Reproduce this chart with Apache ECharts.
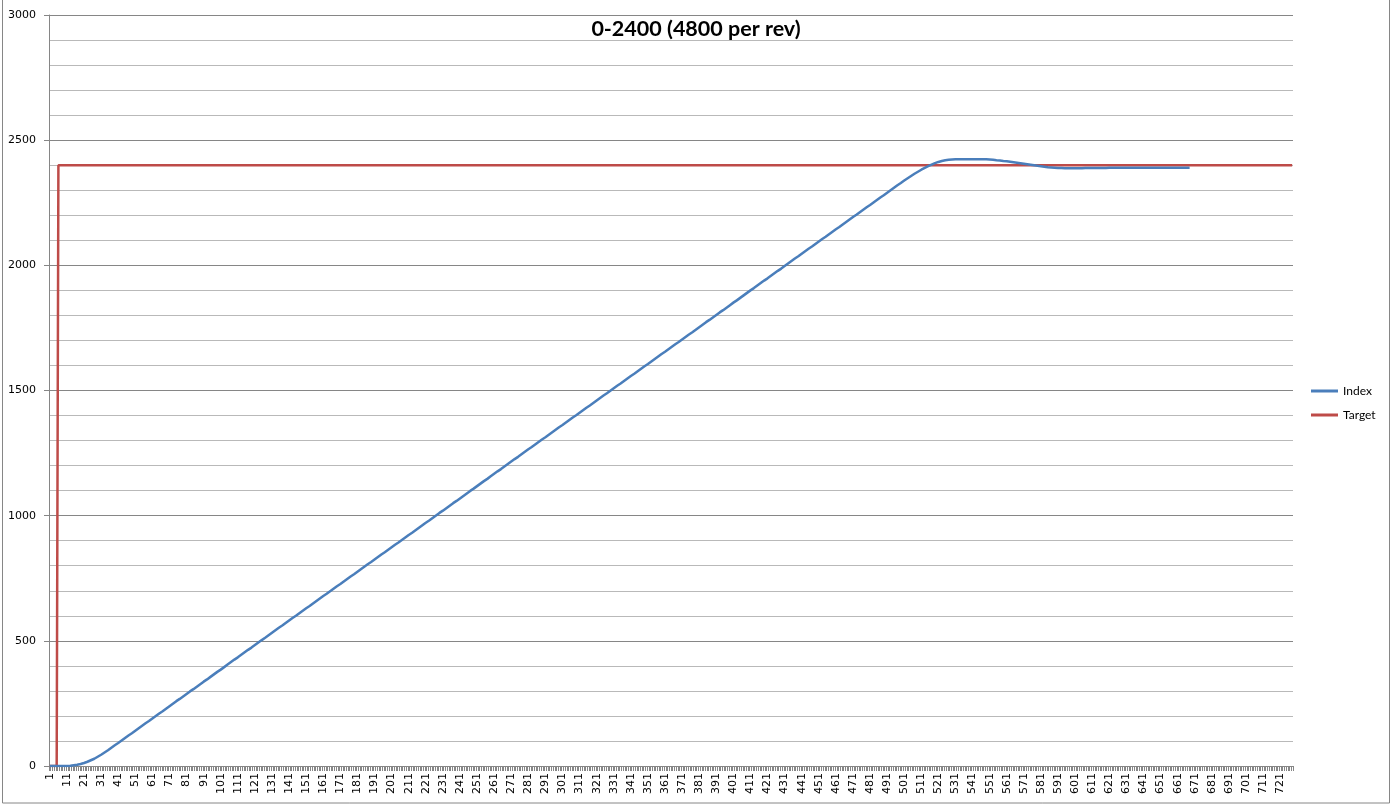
<!DOCTYPE html>
<html>
<head>
<meta charset="utf-8">
<script src="https://cdn.jsdelivr.net/npm/echarts@6/dist/echarts.min.js"></script>
<style>
html,body{margin:0;padding:0;background:#fff;}
#chart{width:1392px;height:806px;}
</style>
</head>
<body>
<div id="chart"></div>
<script>
const titleText = '0-2400 (4800 per rev)';
const seriesNames = ['Index', 'Target'];
const categoryCount = 728;
const categories = Array.from({length: categoryCount}, (_, i) => String(i + 1));
const yTicks = [0, 500, 1000, 1500, 2000, 2500, 3000];

// Index series, category 1 .. 668
const indexValues = [
0,0,0,0,0,0,0,0,0,
0,0,0,1,2,3,4,5,6,8,
10,12,15,17,20,23,26,29,33,37,
40,45,49,54,58,63,68,73,78,83,
88,92,97,102,107,112,117,122,127,131,
136,141,146,151,156,161,166,171,175,180,
185,190,195,200,205,210,215,219,224,229,
234,239,244,249,254,259,263,268,273,278,
283,288,293,298,302,307,312,317,322,327,
332,337,342,346,351,356,361,366,371,376,
381,385,390,395,400,405,410,415,420,425,
429,434,439,444,449,454,459,464,469,473,
478,483,488,493,498,503,508,512,517,522,
527,532,537,542,547,552,556,561,566,571,
576,581,586,591,596,600,605,610,615,620,
625,630,635,639,644,649,654,659,664,669,
674,679,683,688,693,698,703,708,713,718,
722,727,732,737,742,747,752,757,762,766,
771,776,781,786,791,796,801,806,810,815,
820,825,830,835,840,845,849,854,859,864,
869,874,879,884,889,893,898,903,908,913,
918,923,928,932,937,942,947,952,957,962,
967,972,976,981,986,991,996,1001,1006,1011,
1016,1020,1025,1030,1035,1040,1045,1050,1055,1059,
1064,1069,1074,1079,1084,1089,1094,1099,1103,1108,
1113,1118,1123,1128,1133,1138,1143,1147,1152,1157,
1162,1167,1172,1177,1182,1186,1191,1196,1201,1206,
1211,1216,1221,1226,1230,1235,1240,1245,1250,1255,
1260,1265,1269,1274,1279,1284,1289,1294,1299,1304,
1309,1313,1318,1323,1328,1333,1338,1343,1348,1353,
1357,1362,1367,1372,1377,1382,1387,1392,1396,1401,
1406,1411,1416,1421,1426,1431,1436,1440,1445,1450,
1455,1460,1465,1470,1475,1480,1484,1489,1494,1499,
1504,1509,1514,1519,1523,1528,1533,1538,1543,1548,
1553,1558,1563,1567,1572,1577,1582,1587,1592,1597,
1602,1606,1611,1616,1621,1626,1631,1636,1641,1646,
1650,1655,1660,1665,1670,1675,1680,1685,1690,1694,
1699,1704,1709,1714,1719,1724,1729,1733,1738,1743,
1748,1753,1758,1763,1768,1773,1777,1782,1787,1792,
1797,1802,1807,1812,1817,1821,1826,1831,1836,1841,
1846,1851,1856,1860,1865,1870,1875,1880,1885,1890,
1895,1900,1904,1909,1914,1919,1924,1929,1934,1939,
1943,1948,1953,1958,1963,1968,1973,1978,1983,1987,
1992,1997,2002,2007,2012,2017,2022,2027,2031,2036,
2041,2046,2051,2056,2061,2066,2070,2075,2080,2085,
2090,2095,2100,2105,2110,2114,2119,2124,2129,2134,
2139,2144,2149,2153,2158,2163,2168,2173,2178,2183,
2188,2193,2197,2202,2207,2212,2217,2222,2227,2232,
2237,2241,2246,2251,2256,2261,2266,2271,2276,2280,
2285,2290,2295,2300,2305,2310,2315,2320,2324,2329,
2334,2339,2344,2348,2353,2357,2362,2366,2370,2374,
2378,2382,2386,2389,2393,2396,2399,2402,2405,2408,
2411,2413,2415,2417,2419,2420,2421,2422,2423,2423,
2424,2424,2424,2424,2424,2424,2424,2424,2424,2424,
2424,2424,2424,2424,2424,2424,2424,2424,2424,2424,
2423,2423,2422,2422,2421,2420,2420,2419,2418,2417,
2417,2416,2415,2414,2413,2412,2411,2410,2409,2408,
2407,2406,2405,2404,2403,2402,2401,2400,2399,2398,
2397,2396,2395,2394,2393,2392,2392,2391,2390,2390,
2389,2389,2389,2389,2389,2388,2388,2388,2388,2388,
2388,2388,2388,2388,2388,2388,2389,2389,2389,2389,
2389,2389,2389,2389,2389,2389,2389,2389,2389,2389,
2389,2390,2390,2390,2390,2390,2390,2390,2390,2390,
2390,2390,2390,2390,2390,2390,2390,2390,2390,2390,
2390,2390,2390,2390,2390,2390,2390,2390,2390,2390,
2390,2390,2390,2390,2390,2390,2390,2390,2390,2390,
2390,2390,2390,2390,2390,2390,2390,2390,2390
];

// Target series: step from 0 to 2400 (category label, value)
const targetPoints = [['1', 0], ['5', 0], ['6', 2400], ['728', 2400]];

const chart = echarts.init(document.getElementById('chart'), null, {renderer: 'canvas'});
chart.setOption({
  animation: false,
  backgroundColor: '#ffffff',
  title: {
    text: titleText,
    left: 'center',
    top: 13,
    textStyle: {fontFamily: 'Lato', fontWeight: 'bold', fontSize: 21.5, color: '#000'}
  },
  legend: {
    orient: 'vertical',
    left: 1311,
    top: 384,
    padding: 0,
    itemWidth: 27,
    itemHeight: 3,
    itemGap: 10,
    icon: 'rect',
    data: seriesNames,
    textStyle: {fontFamily: 'Lato', fontSize: 12, color: '#000', lineHeight: 14}
  },
  grid: {left: 49, top: 15, right: 99, bottom: 40, containLabel: false},
  xAxis: {
    type: 'category',
    data: categories,
    boundaryGap: true,
    axisLine: {lineStyle: {color: '#868686', width: 1}},
    axisTick: {show: true, interval: 0, length: 5, lineStyle: {color: '#868686'}},
    axisLabel: {
      interval: 9, rotate: 90, margin: 7, color: '#000',
      fontFamily: 'DejaVu Sans', fontSize: 11, hideOverlap: false
    },
    splitLine: {show: false}
  },
  yAxis: {
    type: 'value',
    min: yTicks[0],
    max: yTicks[yTicks.length - 1],
    interval: 500,
    axisLine: {show: true, lineStyle: {color: '#868686', width: 1}},
    axisTick: {show: true, length: 5, lineStyle: {color: '#868686'}},
    axisLabel: {
      margin: 13, color: '#000', fontFamily: 'DejaVu Sans', fontSize: 11,
      formatter: function (v) { return String(v); }
    },
    splitLine: {show: true, lineStyle: {color: '#868686', width: 1}},
    minorTick: {show: false, splitNumber: 5},
    minorSplitLine: {show: true, lineStyle: {color: '#b9b9b9', width: 1}}
  },
  series: [
    {
      name: seriesNames[0],
      type: 'line',
      data: indexValues,
      showSymbol: false,
      symbol: 'none',
      lineStyle: {color: '#4a7ebb', width: 2.5},
      itemStyle: {color: '#4a7ebb'},
      z: 3
    },
    {
      name: seriesNames[1],
      type: 'line',
      data: targetPoints,
      showSymbol: false,
      symbol: 'none',
      lineStyle: {color: '#be4b48', width: 2.5},
      itemStyle: {color: '#be4b48'},
      z: 2
    }
  ],
  graphic: [{
    type: 'rect',
    shape: {x: 2.5, y: -5, width: 1387, height: 808},
    style: {fill: 'none', stroke: '#868686', lineWidth: 1},
    silent: true
  }]
});
</script>
</body>
</html>
